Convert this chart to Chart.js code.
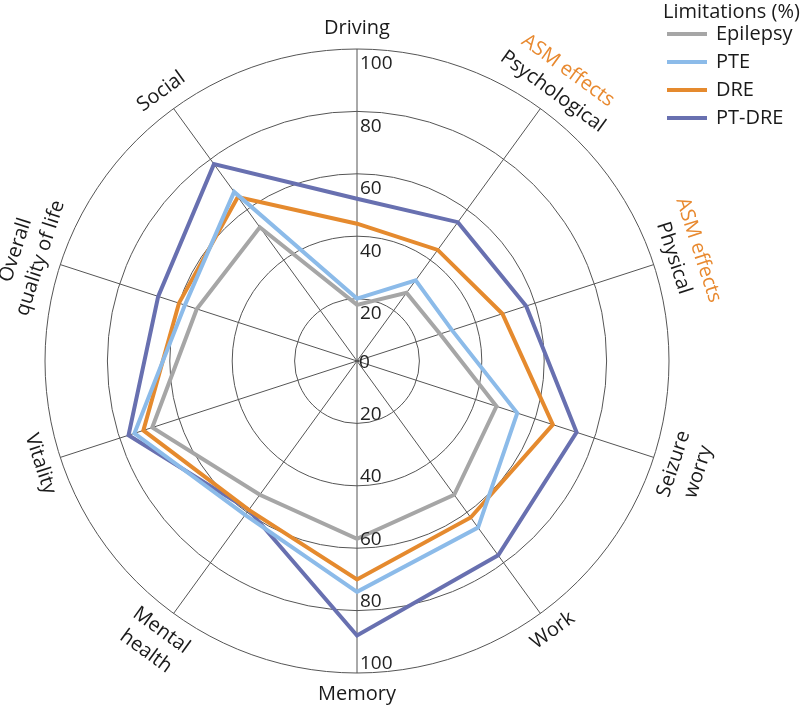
<!DOCTYPE html>
<html lang="en">
<head>
    <meta charset="UTF-8">
    <title>Limitations (%) radar</title>
    <style>
        html, body { margin: 0; padding: 0; background: #fff; }
        #wrap { width: 800px; height: 711px; }
    </style>
    <script src="https://cdn.jsdelivr.net/npm/chart.js@4/dist/chart.umd.min.js"></script>
</head>
<body>
<div id="wrap"><canvas id="radar" width="800" height="711"></canvas></div>
<script>
    // axes, clockwise from the top
    const categories = ['Driving', ['ASM effects', 'Psychological'], ['ASM effects', 'Physical'],
        ['Seizure', 'worry'], 'Work', 'Memory', ['Mental', 'health'], 'Vitality',
        ['Overall', 'quality of life'], 'Social'];

    const epilepsy = [18, 27, 28, 47, 53, 57, 53, 69, 54, 53];
    const pte      = [20, 32, 32, 54, 66, 74, 61, 75, 58, 67];
    const dre      = [44, 44, 49, 66, 62, 70, 59, 72, 60, 65];
    const ptDre    = [52, 55, 57, 74, 77, 88, 59, 77, 67, 78];

    const tickValues = [0, 20, 40, 60, 80, 100];
    const legendTitle = 'Limitations (%)';

    const FONT = '"Open Sans", "DejaVu Sans", sans-serif';
    const ORANGE_TEXT = '#e8892f';

    // tick numbers on the vertical axis, up and down
    const tickLabels = {
        id: 'tickLabels',
        afterDatasetsDraw(chart) {
            const s = chart.scales.r, ctx = chart.ctx;
            ctx.save();
            ctx.font = '19px ' + FONT;
            ctx.fillStyle = '#222';
            ctx.textAlign = 'left';
            ctx.textBaseline = 'middle';
            tickValues.forEach(v => {
                const d = s.getDistanceFromCenterForValue(v);
                if (v === 0) {
                    ctx.fillText('0', s.xCenter + 2, s.yCenter + 2);
                    return;
                }
                ctx.fillText(String(v), s.xCenter + 3, s.yCenter - d + 15);
                ctx.fillText(String(v), s.xCenter + 3, s.yCenter + d - 9);
            });
            ctx.restore();
        }
    };

    // rotated category labels round the outer ring
    const rotatedLabels = {
        id: 'rotatedLabels',
        afterDraw(chart) {
            const s = chart.scales.r, ctx = chart.ctx;
            const r0 = s.drawingArea + 21, lh = 26;
            ctx.save();
            ctx.font = '20px ' + FONT;
            ctx.textAlign = 'center';
            ctx.textBaseline = 'middle';
            chart.data.labels.forEach((lab, i) => {
                const lines = Array.isArray(lab) ? lab : [lab];
                const a = s.getIndexAngle(i);
                const deg = a * 180 / Math.PI;
                let rot = deg;
                if (deg > 90 && deg < 270) rot = deg - 180;
                else if (deg >= 270) rot = deg - 360;
                const rr = rot * Math.PI / 180;
                const out = [Math.sin(a), -Math.cos(a)];
                const down = [-Math.sin(rr), Math.cos(rr)];
                const outwardDown = out[0] * down[0] + out[1] * down[1] > 0;
                lines.forEach((txt, k) => {
                    const step = outwardDown ? k : (lines.length - 1 - k);
                    const dist = r0 + step * lh;
                    const x = s.xCenter + out[0] * dist;
                    const y = s.yCenter + out[1] * dist;
                    ctx.save();
                    ctx.translate(x, y);
                    ctx.rotate(rr);
                    ctx.fillStyle = txt === 'ASM effects' ? ORANGE_TEXT : '#1a1a1a';
                    ctx.fillText(txt, 0, 0);
                    ctx.restore();
                });
            });
            ctx.restore();
        }
    };

    // legend block, top right
    const cornerLegend = {
        id: 'cornerLegend',
        afterDraw(chart) {
            const ctx = chart.ctx;
            const x0 = 663, y0 = 12, gap = 28;
            ctx.save();
            ctx.font = '20px ' + FONT;
            ctx.textBaseline = 'middle';
            ctx.textAlign = 'left';
            ctx.fillStyle = '#1a1a1a';
            ctx.fillText(legendTitle, x0, y0);
            chart.data.datasets.forEach((ds, i) => {
                const y = y0 + 22 + gap * i;
                ctx.strokeStyle = ds.borderColor;
                ctx.lineWidth = 4;
                ctx.beginPath();
                ctx.moveTo(x0 + 4, y);
                ctx.lineTo(x0 + 44, y);
                ctx.stroke();
                ctx.fillStyle = '#1a1a1a';
                ctx.fillText(ds.label, x0 + 53, y);
            });
            ctx.restore();
        }
    };

    const lineStyle = { fill: false, borderWidth: 4, pointRadius: 0, pointHoverRadius: 0,
        tension: 0, borderJoinStyle: 'miter' };

    new Chart(document.getElementById('radar'), {
        type: 'radar',
        data: {
            labels: categories,
            datasets: [
                Object.assign({ label: 'Epilepsy', data: epilepsy, borderColor: '#a6a6a6' }, lineStyle),
                Object.assign({ label: 'PTE', data: pte, borderColor: '#8cbbe9' }, lineStyle),
                Object.assign({ label: 'DRE', data: dre, borderColor: '#e58a2e' }, lineStyle),
                Object.assign({ label: 'PT-DRE', data: ptDre, borderColor: '#6870b0' }, lineStyle)
            ]
        },
        options: {
            responsive: false,
            animation: false,
            layout: { padding: { left: 45, right: 131, top: 49, bottom: 38 } },
            plugins: { legend: { display: false }, tooltip: { enabled: false } },
            scales: {
                r: {
                    min: 0,
                    max: 100,
                    ticks: { display: false, stepSize: 20 },
                    grid: { circular: true, color: '#555', lineWidth: 1 },
                    angleLines: { color: '#555', lineWidth: 1 },
                    pointLabels: { display: false }
                }
            }
        },
        plugins: [tickLabels, rotatedLabels, cornerLegend]
    });
</script>
</body>
</html>
